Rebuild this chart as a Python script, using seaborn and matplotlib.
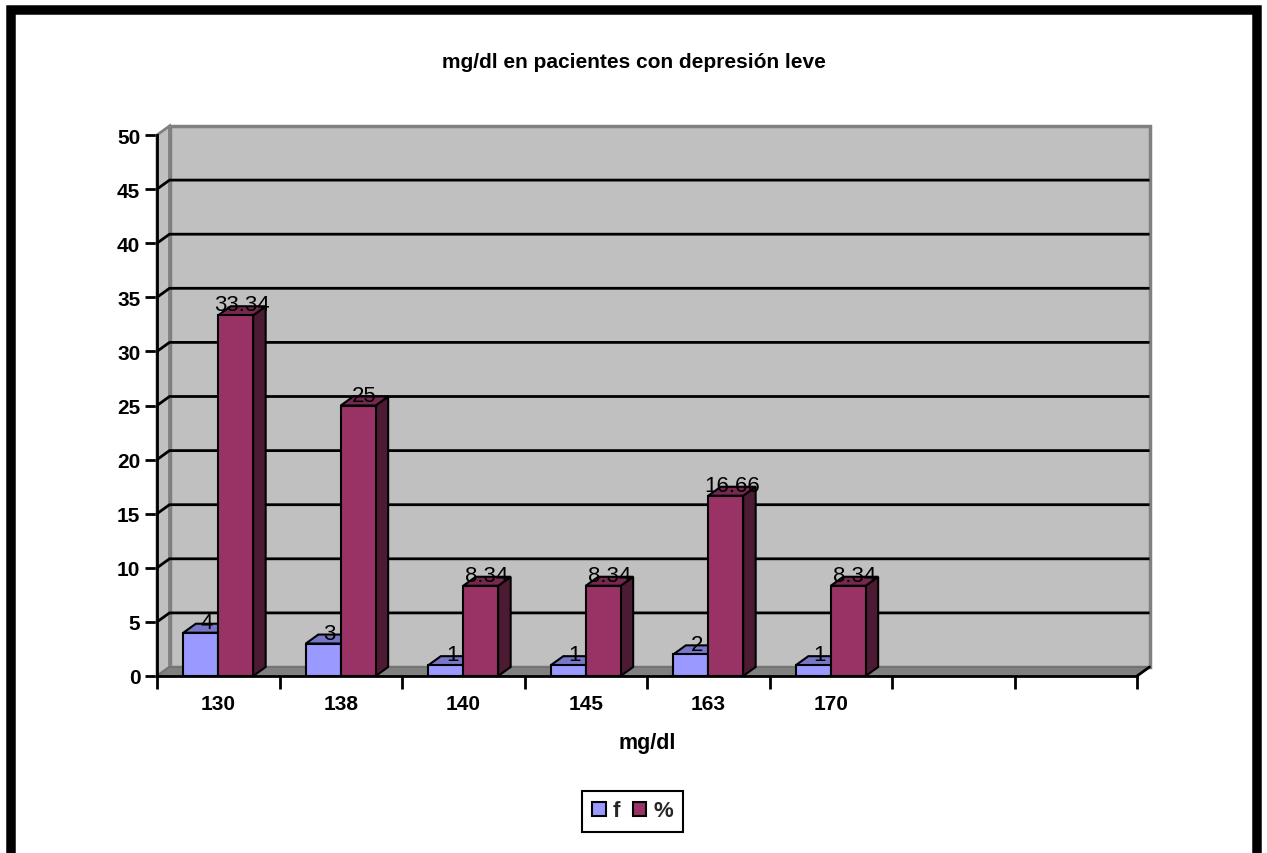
import numpy as np
import pandas as pd
import matplotlib
matplotlib.use("Agg")
import matplotlib.pyplot as plt
from matplotlib.patches import Polygon, Rectangle, Patch
from matplotlib.colors import to_rgb
import seaborn as sns

# ---- data ----
categorias = ["130", "138", "140", "145", "163", "170"]
frecuencia = [4, 3, 1, 1, 2, 1]
porcentaje = [33.34, 25, 8.34, 8.34, 16.66, 8.34]
series = ["f", "%"]
colores = ["#9999FF", "#993366"]
y_ticks = [0, 5, 10, 15, 20, 25, 30, 35, 40, 45, 50]
n_slots = 8  # category slots on the axis (two stay empty)

sns.set_theme(style="white")
plt.rcParams["font.family"] = ["Liberation Sans", "DejaVu Sans"]

W, H = 1267, 854
fig = plt.figure(figsize=(W / 100, H / 100), dpi=100)
fig.patch.set_facecolor("white")

# front plane of the plot box, in pixels
ax_l, ax_r, ax_t, ax_b = 157, 1137, 136, 677
ax = fig.add_axes([ax_l / W, 1 - ax_b / H, (ax_r - ax_l) / W, (ax_b - ax_t) / H])
ax.patch.set_visible(False)

df = pd.DataFrame({
    "mg/dl": categorias * 2,
    "valor": frecuencia + porcentaje,
    "serie": [series[0]] * len(categorias) + [series[1]] * len(categorias),
})

sns.barplot(data=df, x="mg/dl", y="valor", hue="serie", order=categorias,
            hue_order=series, palette=colores, width=0.57, saturation=1,
            edgecolor="black", linewidth=1.5, legend=False, ax=ax)

ax.set_xlim(-0.5, n_slots - 0.5)
ax.set_ylim(y_ticks[0], y_ticks[-1])
ymax = y_ticks[-1]
x0_ax, x1_ax = -0.5, n_slots - 0.5

# depth of the pseudo-3D extrusion, converted from pixels to data units
dx = 12.5 / ((ax_r - ax_l) / n_slots)
dy = 9.0 / ((ax_b - ax_t) / ymax)

wall = "#C0C0C0"
wall_edge = "#808080"

# back wall, left wall and floor
ax.add_patch(Polygon([(x0_ax + dx, dy), (x1_ax + dx, dy), (x1_ax + dx, ymax + dy),
                      (x0_ax + dx, ymax + dy)], closed=True, fc=wall, ec=wall_edge,
                     lw=2.5, clip_on=False, zorder=0.5))
ax.add_patch(Polygon([(x0_ax, 0), (x0_ax + dx, dy), (x0_ax + dx, ymax + dy),
                      (x0_ax, ymax)], closed=True, fc=wall, ec=wall_edge,
                     lw=2, clip_on=False, zorder=0.55))
ax.add_patch(Polygon([(x0_ax, 0), (x1_ax, 0), (x1_ax + dx, dy), (x0_ax + dx, dy)],
                     closed=True, fc="#808080", ec="#707070", lw=1,
                     clip_on=False, zorder=0.6))

# gridlines on left and back walls
for v in y_ticks[1:-1]:
    ax.plot([x0_ax, x0_ax + dx, x1_ax + dx], [v, v + dy, v + dy], color="black",
            lw=2, clip_on=False, zorder=0.7, solid_capstyle="butt")

# extrude bars and label them
serie_rgb = [to_rgb(c) for c in colores]
for p in list(ax.patches):
    if not isinstance(p, Rectangle):
        continue
    fc = to_rgb(p.get_facecolor())
    k = int(np.argmin([sum((a - b) ** 2 for a, b in zip(fc, c)) for c in serie_rgb]))
    base_z = 2.8 + 0.2 * k
    x0, w, h = p.get_x(), p.get_width(), p.get_height()
    top_c = tuple(0.78 * c for c in fc)
    side_c = tuple(0.5 * c for c in fc)
    ax.add_patch(Polygon([(x0 + w, 0), (x0 + w + dx, dy), (x0 + w + dx, h + dy), (x0 + w, h)],
                         closed=True, fc=side_c, ec="black", lw=1.5,
                         clip_on=False, zorder=base_z))
    ax.add_patch(Polygon([(x0, h), (x0 + w, h), (x0 + w + dx, h + dy), (x0 + dx, h + dy)],
                         closed=True, fc=top_c, ec="black", lw=1.5,
                         clip_on=False, zorder=base_z))
    p.set_zorder(base_z + 0.1)
    ax.text(x0 + w / 2 + dx / 2, h + dy * 1.15, f"{h:g}", ha="center", va="center",
            fontsize=16, color="black", zorder=5)

# axes lines and ticks
for s in ["top", "right"]:
    ax.spines[s].set_visible(False)
for s in ["left", "bottom"]:
    ax.spines[s].set_color("black")
    ax.spines[s].set_linewidth(2)
    ax.spines[s].set_zorder(4)
ax.plot([x1_ax, x1_ax + dx], [0, dy], color="black", lw=2, clip_on=False, zorder=4)

ax.set_yticks(y_ticks)
ax.set_yticklabels([str(t) for t in y_ticks], fontweight="bold", fontsize=15)
ax.tick_params(axis="y", which="major", left=True, length=9, width=2,
               color="black", direction="out", pad=3, labelcolor="black")

ax.set_xticks(np.arange(n_slots + 1) - 0.5)
ax.set_xticklabels([""] * (n_slots + 1))
ax.set_xticks(np.arange(len(categorias)), minor=True)
ax.set_xticklabels(categorias, minor=True, fontweight="bold", fontsize=15)
ax.tick_params(axis="x", which="major", bottom=True, length=9, width=2,
               color="black", direction="out")
ax.tick_params(axis="x", which="minor", bottom=True, length=0, pad=13,
               labelcolor="black")

ax.set_xlabel("mg/dl", fontweight="bold", fontsize=15.5, labelpad=14, color="black")
ax.set_ylabel("")

fig.text(0.5, 1 - 62 / H, "mg/dl en pacientes con depresión leve", ha="center",
         va="center", fontsize=15, fontweight="bold", color="black")

handles = [Patch(fc=c, ec="black", lw=1.5, label=s) for s, c in zip(series, colores)]
leg = fig.legend(handles=handles, loc="center", bbox_to_anchor=(632.5 / W, 1 - 812 / H),
                 ncol=2, frameon=True, fancybox=False, edgecolor="black", framealpha=1,
                 prop={"weight": "bold", "size": 16}, handlelength=0.6,
                 handleheight=0.6, handletextpad=0.3, columnspacing=0.6,
                 borderpad=0.45)
leg.get_frame().set_linewidth(1.5)

# thick outer frame
fig.patches.append(Rectangle((10.5 / W, -2 / H), (1257 - 10.5) / W, (H - 10.5 + 2) / H,
                             transform=fig.transFigure, fill=False, ec="black",
                             lw=9.5 * 72 / 100, zorder=10))

fig.savefig("out.png", dpi=100)
